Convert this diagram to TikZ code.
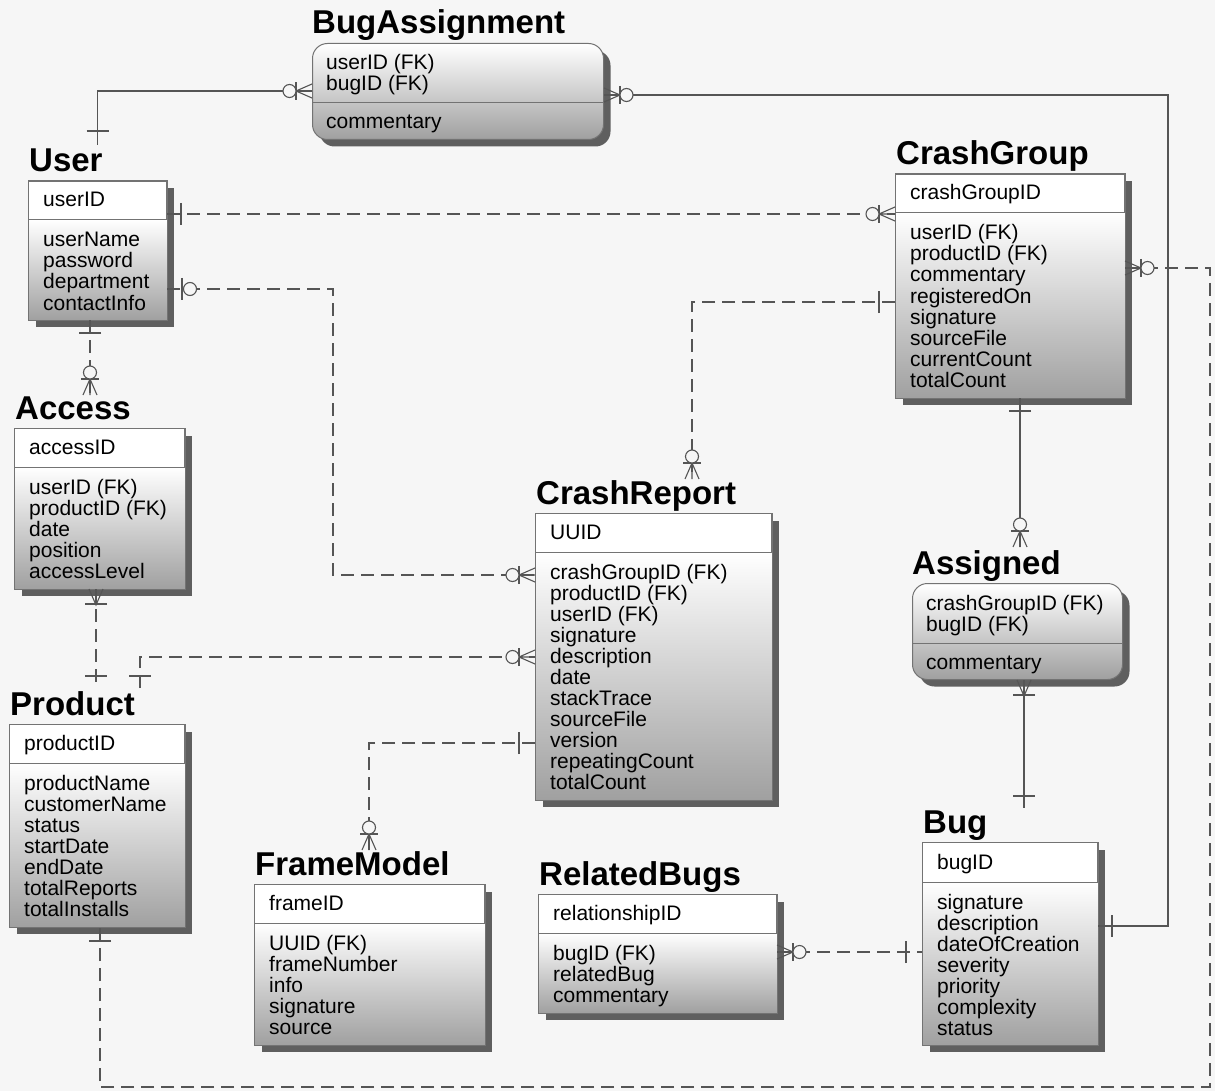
\documentclass[tikz,border=0pt]{standalone}
\usepackage{fontspec}
\setmainfont{Liberation Sans}
\usetikzlibrary{calc,shadows}
\definecolor{bgc}{RGB}{246,246,246}
\definecolor{linec}{RGB}{85,85,85}
\definecolor{borderc}{RGB}{115,115,115}
\definecolor{bodyc}{RGB}{160,160,160}
\definecolor{shadc}{RGB}{95,95,95}
\tikzset{
 rel/.style={draw=linec, line width=1.1pt},
 reldash/.style={rel, dash pattern=on 13pt off 7pt},
 ermark/.style={draw=linec, line width=1.1pt, solid},
 eboxbase/.style={draw=borderc, line width=1pt, inner sep=0pt,
   drop shadow={shadow xshift=7pt, shadow yshift=-7pt, fill=shadc, opacity=1}},
 ebox/.style={eboxbase, fill=white},
 erbox/.style={eboxbase, rounded corners=15pt, top color=white, bottom color=bodyc},
 etitle/.style={inner sep=0pt, font=\fontsize{33}{36}\selectfont\bfseries},
 eattr/.style={inner sep=0pt, font=\fontsize{21}{21}\selectfont},
 eline/.style={draw=borderc, line width=1pt}
}
% rectangular entity: name, title, x1, y1, x2, y2, divider y, key, attributes
\newcommand\erent[9]{%
 \node[ebox, anchor=north west, minimum width={(#5-#3)*1pt}, minimum height={(#6-#4)*1pt}] (#1) at (#3,#4) {};
 \shade[top color=white, bottom color=bodyc] (#1.west |- 0,#7) rectangle (#1.south east);
 \draw[eline] (#1.north west) rectangle (#1.south east);
 \draw[eline] (#1.west |- 0,#7) -- (#1.east |- 0,#7);
 \node[etitle, anchor=base west] (#1-title) at ({#3+1},{#4-9}) {#2};
 \node[eattr, anchor=base west] (#1-pk) at ({#3+15},{#7-13}) {#8};
 \foreach \aname [count=\anum] in {#9} {\node[eattr, anchor=base west] (#1-a\anum) at ({#3+15},{#7+27+21*(\anum-1)}) {\aname};}
}
% rounded (associative) entity: name, title, x1, y1, x2, y2, divider y, upper list, lower text
\newcommand\errnd[9]{%
 \node[erbox, anchor=north west, minimum width={(#5-#3)*1pt}, minimum height={(#6-#4)*1pt}] (#1) at (#3,#4) {};
 \draw[eline] (#1.west |- 0,#7) -- (#1.east |- 0,#7);
 \node[etitle, anchor=base west] (#1-title) at ({#3},{#4-9}) {#2};
 \foreach \aname [count=\anum] in {#8} {\node[eattr, anchor=base west] (#1-a\anum) at ({#3+14},{#4+27+21*(\anum-1)}) {\aname};}
 \node[eattr, anchor=base west] (#1-low) at ({#3+14},{#7+26}) {#9};
}
% relationship end marks: point, outward angle
\newcommand\erbar[3]{\begin{scope}[shift={(#1)},rotate=#2]\draw[ermark] (#3,-11) -- (#3,11);\end{scope}}
\newcommand\ercrow[2]{\begin{scope}[shift={(#1)},rotate=#2]\draw[ermark] (0,-7) -- (16,0) -- (0,7) (0,0) -- (16,0);\end{scope}}
\newcommand\ercirc[3]{\begin{scope}[shift={(#1)},rotate=#2]\draw[ermark,fill=bgc] (#3,0) circle[radius=6.5];\end{scope}}
\newcommand\erzm[2]{\ercrow{#1}{#2}\begin{scope}[shift={(#1)},rotate=#2]\draw[ermark] (16,-9) -- (16,9);\end{scope}\ercirc{#1}{#2}{22.5}}
\newcommand\erom[2]{\ercrow{#1}{#2}\erbar{#1}{#2}{15}}
\newcommand\erzo[2]{\erbar{#1}{#2}{15}\ercirc{#1}{#2}{23}}

\begin{document}
\begin{tikzpicture}[x=1pt,y=-1pt]
\fill[bgc] (0,0) rectangle (1215,1091);
\useasboundingbox (0,0) rectangle (1215,1091);

\erent{user}{User}{28}{181}{166}{319}{220}{userID}{userName,password,department,contactInfo}
\errnd{ba}{BugAssignment}{312}{43}{603}{139}{103}{userID (FK),bugID (FK)}{commentary}
\erent{cg}{CrashGroup}{895}{174}{1124}{397}{213}{crashGroupID}{userID (FK),productID (FK),commentary,registeredOn,signature,sourceFile,currentCount,totalCount}
\erent{access}{Access}{14}{428}{184}{588}{467}{accessID}{userID (FK),productID (FK),date,position,accessLevel}
\erent{product}{Product}{9}{724}{184}{926}{763}{productID}{productName,customerName,status,startDate,endDate,totalReports,totalInstalls}
\erent{cr}{CrashReport}{535}{513}{771}{799}{552}{UUID}{crashGroupID (FK),productID (FK),userID (FK),signature,description,date,stackTrace,sourceFile,version,repeatingCount,totalCount}
\errnd{assigned}{Assigned}{912}{583}{1122}{679}{643}{crashGroupID (FK),bugID (FK)}{commentary}
\erent{fm}{FrameModel}{254}{884}{484}{1044}{923}{frameID}{UUID (FK),frameNumber,info,signature,source}
\erent{rb}{RelatedBugs}{538}{894}{776}{1012}{933}{relationshipID}{bugID (FK),relatedBug,commentary}
\erent{bug}{Bug}{922}{842}{1097}{1044}{882}{bugID}{signature,description,dateOfCreation,severity,priority,complexity,status}

% connector end points
\coordinate (p1a) at (user.north |- 0,145);
\coordinate (p1b) at (ba.west |- 0,91);
\coordinate (p2a) at (ba.east |- 0,95);
\coordinate (p2b) at (bug.east |- 0,926);
\coordinate (p3a) at (user.east |- 0,214);
\coordinate (p3b) at (cg.west |- 0,214);
\coordinate (p4a) at (user.east |- 0,289);
\coordinate (p4b) at (cr.west |- 0,575);
\coordinate (p5a) at (user.south -| 90,0);
\coordinate (p5b) at (90,395);
\coordinate (p6a) at (access.south -| 96,0);
\coordinate (p6b) at (96,688);
\coordinate (p7a) at (140,688);
\coordinate (p7b) at (cr.west |- 0,657);
\coordinate (p8a) at (cg.west |- 0,302);
\coordinate (p8b) at (692,479);
\coordinate (p9a) at (cg.south -| 1020,0);
\coordinate (p9b) at (1020,547);
\coordinate (p10a) at (assigned.south -| 1024,0);
\coordinate (p10b) at (1024,808);
\coordinate (p11a) at (cg.east |- 0,268);
\coordinate (p11b) at (product.south -| 100,0);
\coordinate (p12a) at (cr.west |- 0,743);
\coordinate (p12b) at (369,850);
\coordinate (p13a) at (rb.east |- 0,952);
\coordinate (p13b) at (bug.west |- 0,952);

% connectors
\draw[rel] (p1a) |- (p1b);
\draw[rel] (p2a) -- (1168,95) |- (p2b);
\draw[reldash] (p3a) -- (p3b);
\draw[reldash] (p4a) -| (333,575) -- (p4b);
\draw[reldash] (p5a) -- (p5b);
\draw[reldash] (p6a) -- (p6b);
\draw[reldash] (p7a) |- (p7b);
\draw[reldash] (p8a) -| (p8b);
\draw[rel] (p9a) -- (p9b);
\draw[rel] (p10a) -- (p10b);
\draw[reldash] (p11a) -- (1210,268) -- (1210,1087) -| (p11b);
\draw[reldash] (p12a) -| (p12b);
\draw[reldash] (p13a) -- (p13b);

% cardinality marks
\erbar{p1a}{90}{14}  \erzm{p1b}{180}
\erzm{p2a}{0}        \erbar{p2b}{0}{14}
\erbar{p3a}{0}{14}   \erzm{p3b}{180}
\erzo{p4a}{0}        \erzm{p4b}{180}
\erbar{p5a}{-90}{13} \erzm{p5b}{90}
\erom{p6a}{-90}      \erbar{p6b}{90}{12}
\erbar{p7a}{90}{12}  \erzm{p7b}{180}
\erbar{p8a}{180}{16} \erzm{p8b}{90}
\erbar{p9a}{-90}{13} \erzm{p9b}{90}
\erom{p10a}{-90}     \erbar{p10b}{90}{12}
\erzm{p11a}{0}       \erbar{p11b}{-90}{14}
\erbar{p12a}{180}{16} \erzm{p12b}{90}
\erzm{p13a}{0}       \erbar{p13b}{180}{16}
\end{tikzpicture}
\end{document}
